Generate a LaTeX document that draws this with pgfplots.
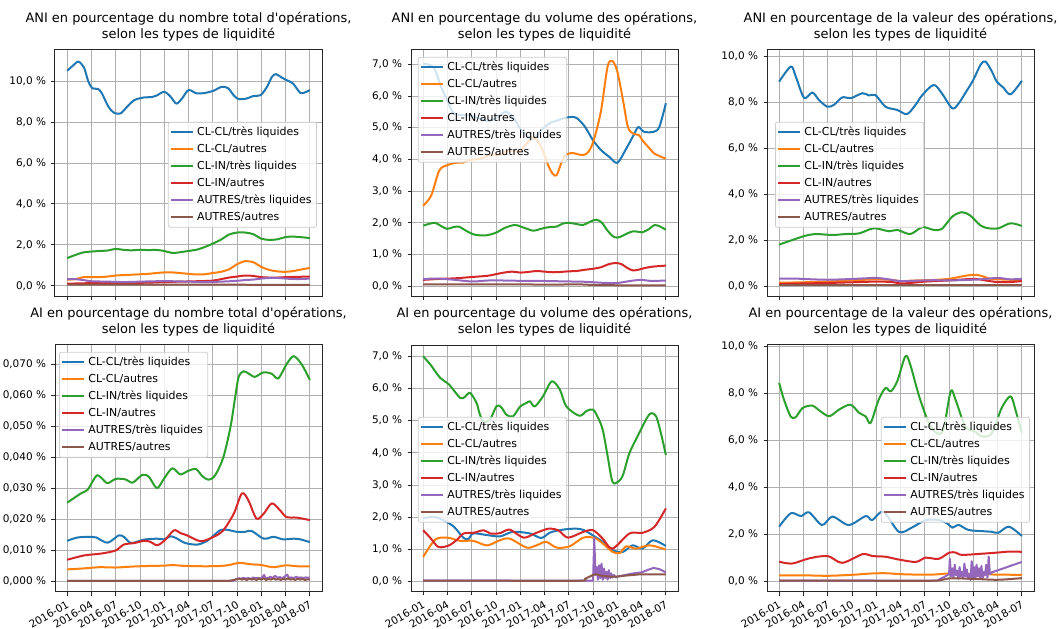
\documentclass[border=0pt]{standalone}
\usepackage{fontspec}
\setmainfont{DejaVu Sans}[Ligatures=TeXOff]
\usepackage{pgfplots}
\pgfplotsset{compat=1.18}
\definecolor{c0}{HTML}{1F77B4}
\definecolor{c1}{HTML}{FF7F0E}
\definecolor{c2}{HTML}{2CA02C}
\definecolor{c3}{HTML}{D62728}
\definecolor{c4}{HTML}{9467BD}
\definecolor{c5}{HTML}{8C564B}
\definecolor{gridgray}{HTML}{B0B0B0}
\definecolor{legedge}{HTML}{CCCCCC}

\pgfplotsset{
  panel/.style={
    scale only axis, width=267bp, height=247bp,
    xmin=-1.5, xmax=31.5,
    xtick={0,3,...,30}, xticklabels={},
    tick align=outside, xtick pos=bottom, ytick pos=left,
    major tick length=3.5bp,
    tick style={black!85, line width=0.8bp},
    axis line style={black!85, line width=1bp},
    grid=major, grid style={gridgray, line width=0.8bp},
    scaled y ticks=false,
    title style={font=\fontsize{13}{15.5}\selectfont, align=center, inner sep=1bp, yshift=2bp},
    yticklabel style={font=\fontsize{10.5}{12}\selectfont, xshift=-2bp},
    legend cell align=left,
    legend image code/.code={\draw[##1, line width=2bp] (0bp,0bp) -- (22bp,0bp);},
    legend style={font=\fontsize{11}{13}\selectfont, draw=legedge, line width=0.8bp,
      fill=white, fill opacity=0.8, text opacity=1, draw opacity=1, rounded corners=2bp,
      inner xsep=2bp, inner ysep=1.5bp,
      nodes={text height=8.5bp, text depth=2.5bp, inner ysep=3bp, inner xsep=3bp}},
    every axis plot/.append style={line width=2bp, line join=round},
  },
  datex/.style={
    xticklabels={2016-01,2016-04,2016-07,2016-10,2017-01,2017-04,2017-07,2017-10,2018-01,2018-04,2018-07},
    xticklabel style={rotate=30, anchor=north east, font=\fontsize{10.5}{12}\selectfont},
  },
  pct1/.style={ytick={0,2,4,6,8,10}, yticklabels={{0,0 \%},{2,0 \%},{4,0 \%},{6,0 \%},{8,0 \%},{10,0 \%}}},
  pct7/.style={ytick={0,1,2,3,4,5,6,7}, yticklabels={{0,0 \%},{1,0 \%},{2,0 \%},{3,0 \%},{4,0 \%},{5,0 \%},{6,0 \%},{7,0 \%}}},
}
\newcommand{\leg}{\legend{CL-CL/très liquides,CL-CL/autres,CL-IN/très liquides,CL-IN/autres,AUTRES/très liquides,AUTRES/autres}}

\begin{document}
\begin{tikzpicture}
\useasboundingbox (0,0) rectangle (1060bp,629bp);

% ---- ANI, nombre total
\begin{axis}[panel, pct1, at={(55bp,332bp)}, anchor=south west,
  ymin=-0.55, ymax=11.52,
  title={ANI en pourcentage du nombre total d'opérations,\\selon les types de liquidité},
  legend style={at={(0.981,0.709)}, anchor=north east}]
\addplot[c0, smooth] coordinates {(0,10.5)(0.7,10.75)(1.4,10.95)(2.1,10.65)(2.6,10.0)(3.1,9.65)(3.8,9.62)(4.3,9.4)(5.1,8.75)(5.8,8.45)(6.6,8.42)(7.3,8.7)(8.3,9.07)(9.5,9.2)(10.5,9.22)(11.1,9.3)(12,9.48)(12.8,9.23)(13.5,8.9)(14.2,9.15)(15,9.56)(16,9.4)(17,9.42)(18.1,9.53)(19.1,9.72)(19.9,9.65)(20.6,9.3)(21.2,9.12)(22.2,9.15)(23,9.27)(23.9,9.31)(24.7,9.72)(25.3,10.2)(25.8,10.34)(26.5,10.18)(27.1,10.05)(27.9,9.89)(28.8,9.43)(29.4,9.45)(30,9.56)};
\addplot[c1, smooth] coordinates {(0,0.3)(1,0.32)(2,0.42)(3,0.42)(4,0.42)(5,0.45)(6,0.5)(7,0.52)(8,0.54)(9,0.56)(10,0.58)(11,0.62)(12,0.65)(13,0.65)(14,0.62)(15,0.58)(16,0.55)(17,0.56)(18,0.62)(19,0.68)(20,0.8)(21,1.05)(22,1.2)(23,1.15)(24,0.92)(25,0.77)(26,0.7)(27,0.68)(28,0.72)(29,0.8)(30,0.87)};
\addplot[c2, smooth] coordinates {(0,1.35)(1,1.5)(2,1.63)(3,1.67)(4,1.7)(5,1.72)(6,1.8)(7,1.75)(8,1.73)(9,1.76)(10,1.74)(11,1.75)(12,1.7)(13,1.6)(14,1.64)(15,1.7)(16,1.76)(17,1.89)(18,2.06)(19,2.25)(20,2.5)(21,2.6)(22,2.6)(23,2.52)(24,2.3)(25,2.24)(26,2.27)(27,2.38)(28,2.4)(29,2.37)(30,2.33)};
\addplot[c3, smooth] coordinates {(0,0.1)(2,0.12)(4,0.13)(6,0.13)(8,0.14)(10,0.15)(12,0.18)(14,0.2)(16,0.22)(18,0.25)(19,0.32)(20,0.4)(21,0.45)(22,0.5)(23,0.48)(24,0.42)(25,0.4)(26,0.4)(27,0.42)(28,0.43)(30,0.45)};
\addplot[c4, smooth] coordinates {(0,0.33)(1,0.32)(2,0.28)(3,0.22)(5,0.2)(7,0.18)(9,0.2)(11,0.22)(13,0.22)(15,0.2)(17,0.18)(19,0.2)(21,0.24)(22,0.28)(23,0.3)(24,0.35)(25,0.38)(26,0.38)(27,0.35)(28,0.33)(29,0.33)(30,0.35)};
\addplot[c5, smooth] coordinates {(0,0.05)(10,0.05)(20,0.05)(30,0.04)};
\leg
\end{axis}

% ---- ANI, volume
\begin{axis}[panel, pct7, at={(411bp,332bp)}, anchor=south west,
  ymin=-0.34, ymax=7.45,
  title={ANI en pourcentage du volume des opérations,\\selon les types de liquidité},
  legend style={at={(0.026,0.972)}, anchor=north west}]
\addplot[c0, smooth] coordinates {(0,7.02)(1.3,6.9)(2.2,6.3)(3,5.85)(3.7,5.47)(4.6,5.4)(5.8,5.38)(6.8,5.3)(7.9,5.22)(9,5.3)(10.2,5.5)(11.2,5.3)(12,4.97)(12.8,4.75)(13.6,4.65)(14.2,4.8)(14.8,4.97)(15.7,5.15)(16.5,5.22)(17.4,5.3)(18.3,5.34)(19,5.3)(20,5.03)(21,4.6)(22,4.29)(23,4.08)(24,3.89)(25,4.29)(26,4.76)(26.6,5.02)(27.3,4.87)(28.5,4.87)(29.2,5.03)(30,5.77)};
\addplot[c1, smooth] coordinates {(0,2.54)(1,2.86)(2,3.65)(3,3.82)(4,3.89)(5,3.9)(5.4,3.96)(6.3,4.0)(7.4,4.05)(8.5,4.15)(9.4,4.13)(10.3,4.27)(11.2,4.25)(12,4.27)(12.8,4.5)(13.6,4.7)(14.2,4.55)(14.8,4.27)(15.4,3.85)(16,3.55)(16.5,3.5)(17.1,3.9)(17.7,4.15)(18.5,4.2)(19.3,4.15)(20,4.15)(20.6,4.3)(21.2,4.7)(22,5.55)(22.8,6.93)(23.4,7.1)(24,6.77)(24.7,5.87)(25.3,5.03)(25.9,4.82)(26.7,4.76)(27.1,4.6)(28,4.34)(28.6,4.18)(30,4.02)};
\addplot[c2, smooth] coordinates {(0,1.91)(0.8,1.97)(1.5,2.0)(2.2,1.9)(2.95,1.81)(3.7,1.86)(4.4,1.88)(5.3,1.75)(6.3,1.63)(7.5,1.6)(8.3,1.63)(9.1,1.7)(10.2,1.85)(11.35,1.93)(12.4,1.85)(13.6,1.75)(14.4,1.8)(15.2,1.85)(15.8,1.87)(16.5,1.88)(17.2,1.97)(17.9,2.0)(18.8,1.97)(19.75,1.93)(20.6,2.03)(21.4,2.1)(22.1,2.0)(22.8,1.75)(23.6,1.55)(24.3,1.55)(25.1,1.65)(25.9,1.73)(26.5,1.72)(27.1,1.7)(27.9,1.8)(28.6,1.93)(29.3,1.88)(30,1.78)};
\addplot[c3, smooth] coordinates {(0,0.2)(2,0.23)(4,0.25)(6,0.29)(8,0.33)(9,0.38)(10,0.43)(11,0.46)(12,0.43)(13,0.45)(14,0.48)(15,0.46)(16,0.44)(17,0.45)(18,0.47)(19,0.48)(20,0.52)(21,0.55)(22,0.6)(23,0.7)(23.8,0.73)(24.5,0.7)(25.2,0.58)(25.9,0.5)(26.6,0.52)(27.5,0.58)(28.5,0.62)(30,0.65)};
\addplot[c4, smooth] coordinates {(0,0.22)(1,0.24)(2,0.24)(3,0.22)(4,0.2)(5,0.17)(6,0.15)(7,0.16)(8,0.18)(10,0.18)(12,0.17)(14,0.17)(16,0.16)(18,0.15)(20,0.14)(22,0.11)(23,0.1)(24,0.1)(25,0.14)(26,0.18)(27,0.2)(28,0.17)(29,0.17)(30,0.18)};
\addplot[c5, smooth] coordinates {(0,0.06)(10,0.06)(16,0.05)(19,0.06)(21,0.04)(24,0.03)(30,0.03)};
\leg
\end{axis}

% ---- ANI, valeur
\begin{axis}[panel, pct1, at={(767bp,332bp)}, anchor=south west,
  ymin=-0.47, ymax=10.28,
  title={ANI en pourcentage de la valeur des opérations,\\selon les types de liquidité},
  legend style={at={(0.03,0.709)}, anchor=north west}]
\addplot[c0, smooth] coordinates {(0,8.9)(1.44,9.56)(2.05,9.13)(3.08,8.2)(4.11,8.43)(4.93,8.1)(5.96,7.81)(6.8,7.9)(7.81,8.22)(8.84,8.18)(10.3,8.4)(11.1,8.3)(11.9,8.32)(13.15,7.81)(14.6,7.67)(15.8,7.49)(16.85,7.89)(17.7,8.32)(19.1,8.76)(20.1,8.4)(21.4,7.74)(22.2,7.96)(23,8.4)(24,8.98)(24.9,9.64)(25.5,9.78)(26.3,9.34)(26.9,8.9)(27.7,8.65)(28.6,8.35)(30,8.94)};
\addplot[c1, smooth] coordinates {(0,0.15)(3,0.17)(6,0.2)(9,0.25)(12,0.3)(14,0.27)(15,0.22)(17,0.25)(19,0.27)(21,0.32)(22.5,0.42)(24,0.5)(25,0.45)(26,0.33)(27,0.3)(28.5,0.28)(30,0.26)};
\addplot[c2, smooth] coordinates {(0,1.81)(2.05,2.06)(3.3,2.2)(4.5,2.27)(6.6,2.23)(8.2,2.27)(9.9,2.3)(11.7,2.52)(13.6,2.39)(14.6,2.45)(16.2,2.27)(17.7,2.57)(19.1,2.45)(20.1,2.49)(21.4,3.03)(22.6,3.22)(23.6,3.08)(24.9,2.64)(25.9,2.52)(27.1,2.52)(28.6,2.74)(30,2.62)};
\addplot[c3, smooth] coordinates {(0,0.1)(3,0.12)(6,0.14)(9,0.17)(12,0.2)(14,0.18)(15,0.12)(16.5,0.15)(18,0.2)(21,0.25)(24,0.32)(25.5,0.25)(27,0.18)(28.5,0.18)(30,0.22)};
\addplot[c4, smooth] coordinates {(0,0.33)(2,0.33)(4,0.3)(6,0.28)(8,0.3)(10,0.33)(12,0.36)(13.5,0.3)(15,0.22)(17,0.24)(19,0.26)(21,0.25)(23,0.27)(25,0.3)(27,0.36)(28.5,0.3)(30,0.32)};
\addplot[c5, smooth] coordinates {(0,0.05)(15,0.05)(30,0.05)};
\leg
\end{axis}

% ---- AI, nombre total
\begin{axis}[panel, datex, at={(55bp,37bp)}, anchor=south west,
  ymin=-0.0034, ymax=0.0763,
  ytick={0,0.01,0.02,0.03,0.04,0.05,0.06,0.07},
  yticklabels={{0,000 \%},{0,010 \%},{0,020 \%},{0,030 \%},{0,040 \%},{0,050 \%},{0,060 \%},{0,070 \%}},
  title={AI en pourcentage du nombre total d'opérations,\\selon les types de liquidité},
  legend style={at={(0.015,0.972)}, anchor=north west}]
\addplot[c0, smooth] coordinates {(0,0.0131)(1.3,0.0142)(3,0.0144)(3.6,0.0142)(5,0.0125)(6.4,0.0149)(7.1,0.0142)(7.9,0.0124)(9.5,0.0135)(11.1,0.0138)(12,0.0136)(12.8,0.0146)(13.6,0.0138)(14.6,0.0124)(16.1,0.0119)(17.3,0.0131)(18.1,0.0148)(18.9,0.0165)(19.7,0.0167)(21,0.016)(22,0.016)(22.8,0.0163)(24.3,0.0138)(25.5,0.0144)(26.7,0.0136)(28,0.0138)(28.8,0.0136)(30,0.0127)};
\addplot[c1, smooth] coordinates {(0,0.0039)(2,0.0042)(4,0.0046)(6,0.0045)(8,0.0048)(10,0.005)(12,0.0051)(13,0.0053)(14,0.0051)(15,0.005)(17,0.0049)(19,0.005)(20,0.0053)(21.3,0.006)(22.5,0.0056)(24,0.0053)(25.5,0.0046)(27,0.0052)(28.5,0.0049)(30,0.0049)};
\addplot[c2, smooth] coordinates {(0,0.0254)(1.7,0.0284)(2.5,0.0295)(3.2,0.0325)(3.7,0.0343)(4.2,0.0335)(5,0.0317)(6,0.0331)(7.25,0.0329)(8.1,0.0319)(9.3,0.0344)(10.1,0.0338)(11.1,0.0301)(12,0.0333)(13,0.0365)(14,0.0345)(14.8,0.0355)(15.9,0.0363)(16.7,0.034)(17.5,0.0328)(18.3,0.0343)(19.3,0.04)(20.2,0.05)(20.8,0.06)(21.2,0.066)(21.8,0.0678)(22.6,0.0668)(23.2,0.066)(24.3,0.0675)(25.3,0.067)(26.1,0.0655)(27.1,0.07)(28,0.0727)(29,0.07)(30,0.065)};
\addplot[c3, smooth] coordinates {(0,0.007)(2.1,0.0084)(4.2,0.009)(6,0.01)(7,0.0119)(8.3,0.0124)(9.5,0.0131)(10.3,0.0128)(11.1,0.0117)(12,0.0131)(13.2,0.0165)(14,0.0156)(14.8,0.0149)(16.5,0.013)(18.1,0.0144)(19.3,0.0165)(20.6,0.0219)(21.6,0.0284)(22.4,0.0262)(23.4,0.0203)(24.3,0.0219)(25.3,0.0252)(26.3,0.023)(27.1,0.0208)(28.4,0.0206)(30,0.0198)};
\addplot[c4] coordinates {(0,0.0002)(20.5,0.0002)(20.9,0.0008)(21.2,0.001)(21.5,0.0009)(21.8,0.0012)(22.1,0.0009)(22.4,0.0011)(22.7,0.0008)(23.0,0.0013)(23.3,0.001)(23.6,0.0012)(23.9,0.0009)(24.2,0.0016)(24.35,0.0021)(24.5,0.0012)(24.8,0.001)(25.1,0.0015)(25.4,0.0011)(25.7,0.0018)(26.0,0.0012)(26.3,0.0014)(26.6,0.001)(26.9,0.0016)(27.2,0.0022)(27.4,0.0012)(27.7,0.0013)(28.0,0.0011)(28.3,0.0015)(28.6,0.0012)(28.9,0.0013)(29.2,0.0011)(29.5,0.0013)(29.8,0.0012)(30,0.0012)};
\addplot[c5] coordinates {(0,0.0002)(20,0.0002)(20.6,0.0005)(21,0.0007)(21.3,0.0009)(21.6,0.0006)(21.9,0.0008)(22.2,0.0005)(22.5,0.0009)(22.8,0.0006)(23.1,0.0008)(23.4,0.0005)(23.7,0.0009)(24,0.0006)(24.3,0.001)(24.6,0.0005)(24.9,0.0008)(25.2,0.0006)(25.5,0.001)(25.8,0.0006)(26.1,0.0008)(26.4,0.0005)(26.7,0.0009)(27,0.0006)(27.3,0.001)(27.6,0.0006)(27.9,0.0008)(28.2,0.0005)(28.5,0.0009)(28.8,0.0006)(29.1,0.0008)(29.4,0.0005)(29.7,0.0007)(30,0.0006)};
\leg
\end{axis}

% ---- AI, volume
\begin{axis}[panel, pct7, datex, at={(411bp,37bp)}, anchor=south west,
  ymin=-0.33, ymax=7.35,
  title={AI en pourcentage du volume des opérations,\\selon les types de liquidité},
  legend style={at={(0.026,0.709)}, anchor=north west}]
\addplot[c0, smooth] coordinates {(0,1.96)(1.3,2.01)(2.5,1.9)(3.8,1.7)(5,1.35)(5.6,1.32)(6.2,1.49)(7.9,1.44)(9.5,1.4)(11.1,1.54)(13.2,1.49)(14.6,1.35)(15.7,1.52)(17.3,1.61)(18.9,1.64)(19.8,1.6)(20.6,1.49)(22.2,1.23)(23.4,0.97)(24.7,0.92)(25.9,1.12)(27.1,1.02)(28.4,1.28)(30,1.1)};
\addplot[c1, smooth] coordinates {(0,0.76)(1.5,1.3)(3,1.36)(4.6,1.26)(6.2,1.26)(7.9,1.12)(9.5,1.28)(10.7,1.33)(12.8,1.05)(14,1.12)(15.2,1.23)(16.5,1.05)(18.1,1.09)(19.8,1.36)(21.2,1.35)(22.2,1.18)(23.4,0.92)(24.3,0.88)(25.1,1.09)(26.3,1.02)(28,1.12)(30,0.99)};
\addplot[c2, smooth] coordinates {(0,7.0)(0.9,6.74)(2.1,6.33)(3.2,6.12)(4.6,5.7)(5.2,5.75)(5.8,5.86)(6.6,5.55)(7.0,5.2)(7.5,4.95)(8.3,5.05)(9.1,5.46)(9.7,5.4)(10.3,5.18)(11.1,5.13)(12,5.44)(12.8,5.55)(13.2,5.6)(13.8,5.44)(14.8,5.75)(15.9,6.22)(16.9,5.96)(17.7,5.44)(19.3,5.15)(20.2,5.3)(21,5.34)(21.6,5.1)(22.2,4.71)(22.8,3.9)(23.4,3.1)(24.1,3.1)(24.7,3.31)(25.5,3.99)(26.7,4.61)(27.7,5.1)(28.2,5.23)(28.8,5.13)(29.4,4.6)(30,3.93)};
\addplot[c3, smooth] coordinates {(0,1.59)(0.9,1.35)(1.9,1.07)(3.2,1.12)(4.2,1.3)(5,1.49)(6.2,1.51)(7.5,1.59)(8.3,1.49)(9.5,1.5)(10.7,1.61)(12.4,1.36)(13.8,1.49)(15.5,1.64)(16.7,1.59)(17.9,1.36)(19.8,1.54)(21,1.59)(22.2,1.33)(23.4,1.02)(25.5,1.49)(27.1,1.51)(28.6,1.7)(30,2.27)};
\addplot[c4] coordinates {(0,0.02)(20.6,0.02)(21.0,0.02)(21.15,1.35)(21.3,0.2)(21.45,0.45)(21.6,0.05)(21.75,0.5)(21.9,0.1)(22.05,0.55)(22.2,0.05)(22.35,0.4)(22.5,0.1)(22.65,0.3)(22.8,0.05)(22.95,0.35)(23.1,0.1)(23.25,0.25)(23.4,0.12)(23.6,0.2)(23.8,0.12)(24,0.15)(25,0.2)(26,0.25)(27,0.28)(27.8,0.36)(28.5,0.42)(29.2,0.38)(30,0.28)};
\addplot[c5, smooth] coordinates {(0,0.02)(10,0.02)(19.3,0.02)(20,0.08)(21,0.2)(21.4,0.22)(22,0.18)(23,0.15)(24,0.15)(25,0.18)(26,0.2)(27,0.22)(30,0.22)};
\leg
\end{axis}

% ---- AI, valeur
\begin{axis}[panel, pct1, datex, at={(767bp,37bp)}, anchor=south west,
  ymin=-0.46, ymax=10.05,
  title={AI en pourcentage de la valeur des opérations,\\selon les types de liquidité},
  legend style={at={(0.985,0.709)}, anchor=north east}]
\addplot[c0, smooth] coordinates {(0,2.32)(1.44,2.89)(2.7,2.77)(3.7,2.93)(5.3,2.39)(6.6,2.75)(8.6,2.39)(10.7,2.77)(11.5,2.6)(12.9,2.96)(14.8,2.1)(16.4,2.28)(18.1,2.6)(19.7,2.6)(20.8,2.45)(21.4,2.28)(22.2,2.39)(23.4,2.18)(25.1,2.13)(26.3,2.1)(27.1,2.06)(28.4,2.32)(30,1.92)};
\addplot[c1, smooth] coordinates {(0,0.25)(3,0.25)(6,0.23)(9,0.27)(11,0.32)(13,0.34)(15,0.3)(17,0.28)(19,0.28)(21,0.33)(23,0.32)(25,0.3)(27,0.28)(30,0.27)};
\addplot[c2, smooth] coordinates {(0,8.44)(0.6,7.72)(1.44,7.0)(2.05,6.98)(2.9,7.37)(4.1,7.47)(5.1,7.23)(6.2,7.02)(7.4,7.3)(8.8,7.51)(9.9,7.16)(10.7,7.01)(11.3,6.73)(12.3,7.72)(13.15,8.22)(13.8,8.08)(14.6,8.51)(15.6,9.57)(16.2,9.22)(17.3,7.87)(18.5,6.73)(19.5,6.3)(20.3,6.44)(21.2,8.08)(21.8,7.72)(23,6.59)(24.2,6.37)(25.1,6.16)(26.3,6.3)(27.5,7.37)(28.6,7.87)(29.2,7.3)(30,6.3)};
\addplot[c3, smooth] coordinates {(0,0.83)(1.6,0.75)(3.7,0.97)(6,1.07)(7.8,0.78)(10.3,1.15)(11.5,1.07)(13.15,1.04)(14.8,0.92)(16.9,0.82)(18.1,1.0)(19.7,0.95)(21,1.21)(21.8,1.22)(22.6,1.12)(25.1,1.17)(27.1,1.22)(28.4,1.26)(30,1.25)};
\addplot[c4] coordinates {(0,0.02)(19.5,0.02)(20.5,0.2)(21,0.3)(21.1,0.95)(21.25,0.2)(21.4,0.55)(21.55,0.15)(21.7,0.7)(21.85,0.25)(22.0,0.45)(22.15,0.1)(22.3,0.6)(22.45,0.2)(22.6,0.4)(22.75,0.15)(22.9,0.75)(23.05,0.2)(23.2,0.5)(23.35,0.1)(23.5,0.3)(23.65,0.05)(23.8,0.85)(23.95,0.15)(24.1,0.6)(24.25,0.1)(24.4,0.7)(24.55,0.2)(24.7,0.55)(24.85,0.15)(25.0,0.65)(25.15,0.1)(25.3,0.4)(25.45,0.25)(25.6,0.7)(25.75,0.15)(25.9,1.05)(26.05,0.3)(26.2,0.35)(26.3,0.38)(28,0.58)(30,0.82)};
\addplot[c5, smooth] coordinates {(0,0.02)(10,0.02)(19,0.02)(21,0.12)(24,0.1)(27,0.06)(30,0.13)};
\leg
\end{axis}
\end{tikzpicture}
\end{document}
